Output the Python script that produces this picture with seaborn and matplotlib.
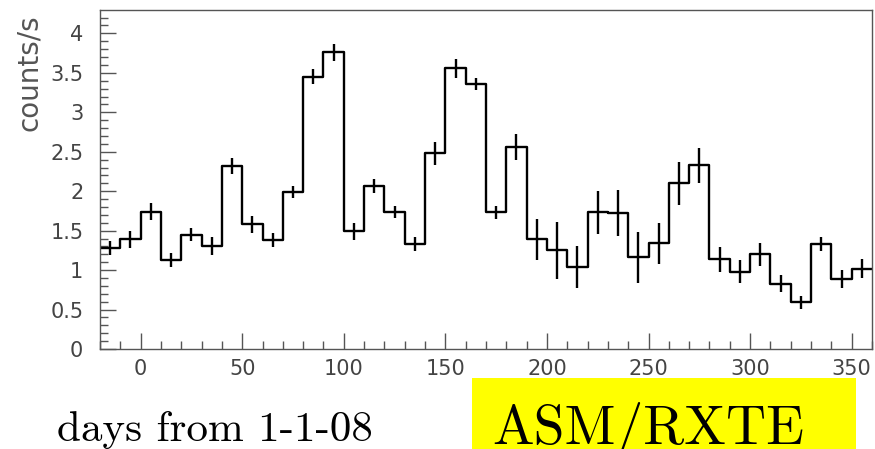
import numpy as np
import pandas as pd
import matplotlib
matplotlib.use("Agg")
import matplotlib.pyplot as plt
import seaborn as sns
from matplotlib.ticker import MultipleLocator, FuncFormatter
from matplotlib.patches import Rectangle

# ---- data ----
bin_width = 10
day_centers = [-15, -5, 5, 15, 25, 35, 45, 55, 65, 75, 85, 95, 105, 115, 125,
               135, 145, 155, 165, 175, 185, 195, 205, 215, 225, 235, 245, 255,
               265, 275, 285, 295, 305, 315, 325, 335, 345, 355]
rate = [1.28, 1.39, 1.74, 1.13, 1.45, 1.31, 2.32, 1.58, 1.38, 1.99, 3.45, 3.76,
        1.49, 2.07, 1.74, 1.33, 2.48, 3.56, 3.36, 1.73, 2.56, 1.39, 1.25, 1.04,
        1.73, 1.72, 1.16, 1.34, 2.10, 2.33, 1.14, 0.98, 1.20, 0.83, 0.59, 1.33,
        0.89, 1.02]
rate_err = [0.09, 0.11, 0.11, 0.085, 0.087, 0.114, 0.102, 0.108, 0.091, 0.08,
            0.093, 0.108, 0.106, 0.087, 0.074, 0.085, 0.144, 0.121, 0.076, 0.08,
            0.161, 0.258, 0.364, 0.269, 0.269, 0.29, 0.324, 0.258, 0.275, 0.222,
            0.159, 0.144, 0.148, 0.106, 0.08, 0.093, 0.116, 0.116]
x_label = "days from 1-1-08"
y_label = "counts/s"
badge = "ASM/RXTE"

edges = [c - bin_width / 2 for c in day_centers] + [day_centers[-1] + bin_width / 2]
df = pd.DataFrame({"day": day_centers, "rate": rate, "err": rate_err})

sns.set_theme(style="white")
plt.rcParams["font.family"] = ["DejaVu Sans"]

W, H = 875, 449
fig = plt.figure(figsize=(W / 100, H / 100), dpi=100)
ax = fig.add_axes([100 / W, (H - 349) / H, 772 / W, 338.5 / H])

sns.histplot(data=df, x="day", weights="rate", bins=edges, element="step",
             fill=False, color="black", linewidth=1.7, ax=ax)
ax.errorbar(df["day"], df["rate"], yerr=df["err"], fmt="none",
            ecolor="black", elinewidth=1.7, capsize=0)

ax.set_xlim(-20, 360)
ax.set_ylim(0, 4.29)
ax.xaxis.set_major_locator(MultipleLocator(50))
ax.xaxis.set_minor_locator(MultipleLocator(10))
ax.yaxis.set_major_locator(MultipleLocator(0.5))
ax.yaxis.set_minor_locator(MultipleLocator(0.1))
ax.yaxis.set_major_formatter(FuncFormatter(lambda v, p: f"{v:g}"))

for s in ax.spines.values():
    s.set_color("#555555")
    s.set_linewidth(1.0)
ax.tick_params(which="both", direction="in", bottom=True, left=True,
               top=False, right=False, color="#555555", width=1.0,
               labelcolor="#444444", labelsize=15)
ax.tick_params(which="major", length=11.5)
ax.tick_params(which="minor", length=5.8)
ax.tick_params(axis="y", which="major", pad=12)
ax.tick_params(axis="x", which="major", pad=7.5)

ax.set_xlabel("")
ax.set_ylabel(y_label, loc="top", fontsize=20, color="#555555")
ax.yaxis.set_label_coords(-0.074, 0.99)

cm = ["cmr10", "DejaVu Serif"]
fig.text(57 / W, 8 / H, x_label, family=cm, fontsize=31, va="baseline",
         color="black")
fig.add_artist(Rectangle((471.7 / W, 0), 384 / W, 71.3 / H,
                         transform=fig.transFigure, facecolor="#ffff00",
                         edgecolor="none", zorder=0))
fig.text(492 / W, 5 / H, badge, family=cm, fontsize=40, va="baseline",
         color="black", zorder=2)

fig.savefig("out.png", dpi=100)
